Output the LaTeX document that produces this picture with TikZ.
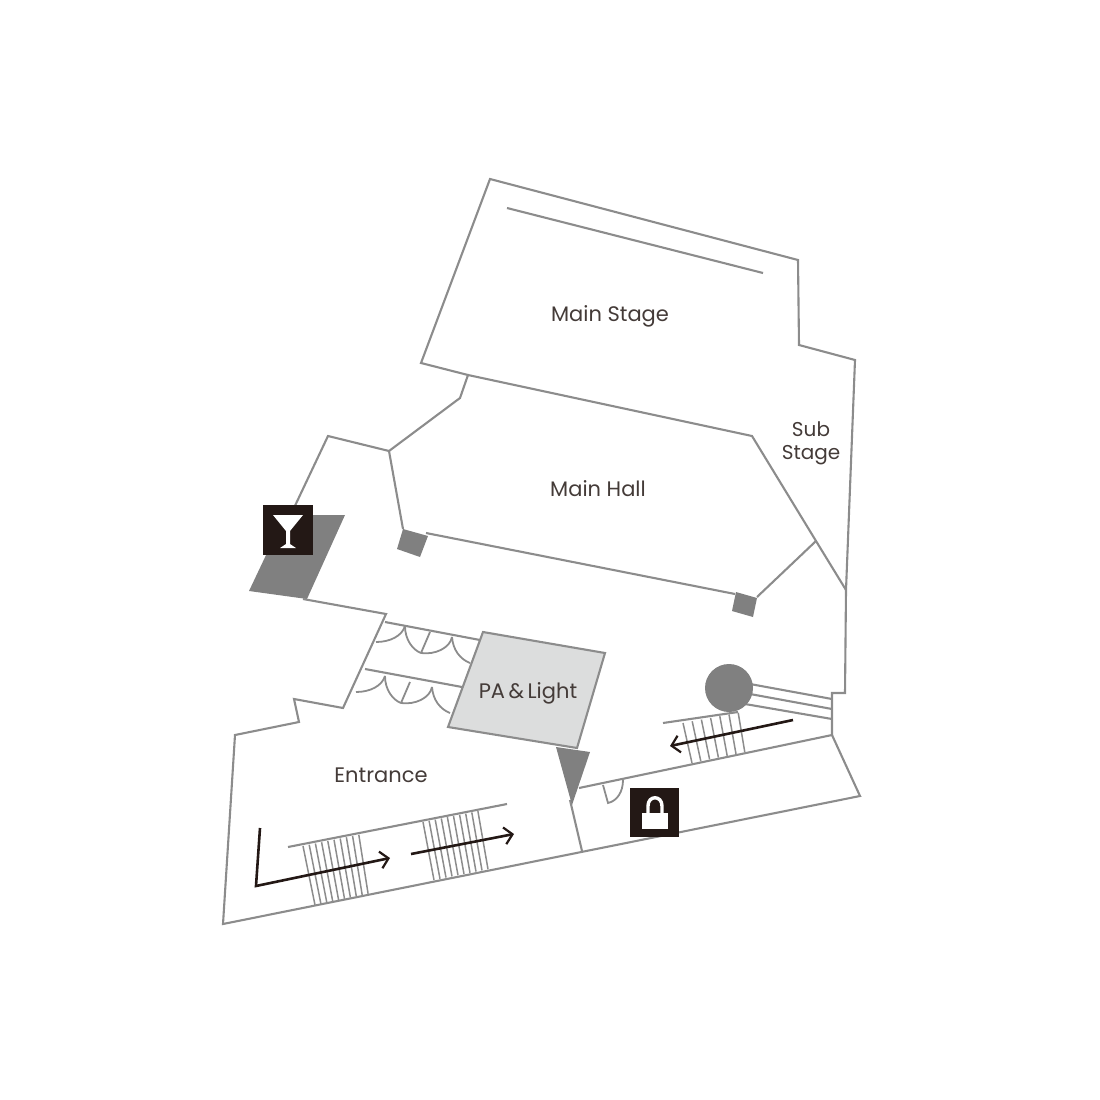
\documentclass[tikz,border=0pt]{standalone}
\usepackage{fontspec}
\setmainfont{Poppins}
\usetikzlibrary{arrows.meta}
\definecolor{wallgray}{HTML}{8C8C8C}
\definecolor{darkgray}{HTML}{808080}
\definecolor{boothgray}{HTML}{DCDDDD}
\definecolor{iconblack}{HTML}{231815}
\tikzset{
    wall/.style={draw=wallgray, line width=2.1pt, line join=miter},
    rung/.style={draw=wallgray, line width=1.5pt},
    route/.style={draw=iconblack, line width=2.6pt, -{Straight Barb[length=8pt,width=17pt,line width=2.2pt]}},
    room/.style={text=iconblack!85, font=\fontsize{21}{25}\selectfont, align=center},
    icon/.style={fill=iconblack}
}
\begin{document}
\begin{tikzpicture}[x=1pt, y=-1pt]
\useasboundingbox (0,0) rectangle (1100,1100);

% gray fills
\fill[darkgray] (345,515)--(307,599)--(249,591)--(285,515)--cycle;
\fill[darkgray] (403,529)--(428,536)--(420,557)--(397,549)--cycle;
\fill[darkgray] (736,592)--(757,598)--(753,617)--(732,611)--cycle;

% outer walls
\draw[wall] (468,375)--(421,363)--(490,179)--(798,260)--(799,345)--(855,360)--(846,590)--(845,693)--(832,693)--(832,735);
\draw[wall] (293,510)--(328,436)--(389,451)--(460,398)--(468,375);
\draw[wall] (468,375)--(752,436)--(816,541)--(846,590);
\draw[wall] (507,208)--(763,273);
\draw[wall] (389,451)--(403,529);
\draw[wall] (426,533)--(735,594);
\draw[wall] (757,597)--(816,541);
\draw[wall] (303,599)--(386,614)--(343,708)--(294,699)--(299,722)--(235,735)--(223,924)--(860,796)--(832,735)--(579,788);
\draw[wall] (570,800)--(582,851);

% doors
\foreach \dx/\dy in {0/0, -20/50}
{
    \begin{scope}[shift={(\dx,\dy)}]
    \draw[wall, line width=1.8pt] (376,642) .. controls (390,642) and (402,636) .. (405,626);
    \draw[wall, line width=1.8pt] (405,626) .. controls (405,640) and (413,650) .. (421,653);
    \draw[wall, line width=1.8pt] (421,653) .. controls (435,655) and (450,648) .. (452,637);
    \draw[wall, line width=1.8pt] (452,637) .. controls (453,650) and (460,659) .. (470,663);
    \draw[wall, line width=1.8pt] (430,632)--(421,653);
    \end{scope}
}
\draw[wall] (385,622)--(480,640);
\draw[wall] (365,669)--(462,687);
\draw[wall, line width=1.8pt] (603,785)--(608,803) .. controls (617,801) and (623,792) .. (623,780);

% booth
\draw[wall, fill=boothgray] (483,632)--(605,653)--(577,748)--(448,727)--cycle;
\fill[darkgray] (556,747)--(590,752)--(572,805)--cycle;

% stairs
\draw[wall] (288,847)--(507,804);
\foreach \i in {0,...,9}
{
    \draw[rung] ({303+\i*6.2},{846-\i*1.25})--({315+\i*5.9},{905-\i*1.25});
    \draw[rung] ({423+\i*6.1},{822-\i*1.2})--({434+\i*6},{880-\i*1.2});
}
\draw[wall] (663,723)--(738,712);
\foreach \i in {0,...,6}
{
    \draw[rung] ({683+\i*9.2},{723-\i*1.7})--({692+\i*8.8},{763-\i*1.8});
}

% lift
\draw[wall] (750,684)--(832,699);
\draw[wall] (750,694)--(832,709);
\draw[wall] (745,704)--(832,719);
\fill[darkgray] (729,688) circle (24);

% route arrows
\draw[route, line join=miter] (260,828)--(256,886)--(390,858);
\draw[route] (411,854)--(514,834);
\draw[route] (793,720)--(670,746);

% bar icon
\fill[icon] (263,505) rectangle (313,555);
\fill[white] (273,515)--(303,515)--(290,531)--(290,544)--(296,548)--(280,548)--(286,544)--(286,531)--cycle;

% locker icon
\fill[icon] (630,788) rectangle (679,837);
\fill[white] (642,813) rectangle (668,829);
\draw[white, line width=3.4pt] (648,814)--(648,806) .. controls (648,795) and (662,795) .. (662,806)--(662,814);

% labels
\node[room] (mainstage) at (610,316) {Main Stage};
\node[room] (mainhall) at (598,489) {Main Hall};
\node[room, font=\fontsize{20}{23}\selectfont] (substage) at (811,443) {Sub\\Stage};
\node[room] (palight) at (528,693) {PA\,\&\,Light};
\node[room] (entrance) at (381,775) {Entrance};
\end{tikzpicture}
\end{document}
